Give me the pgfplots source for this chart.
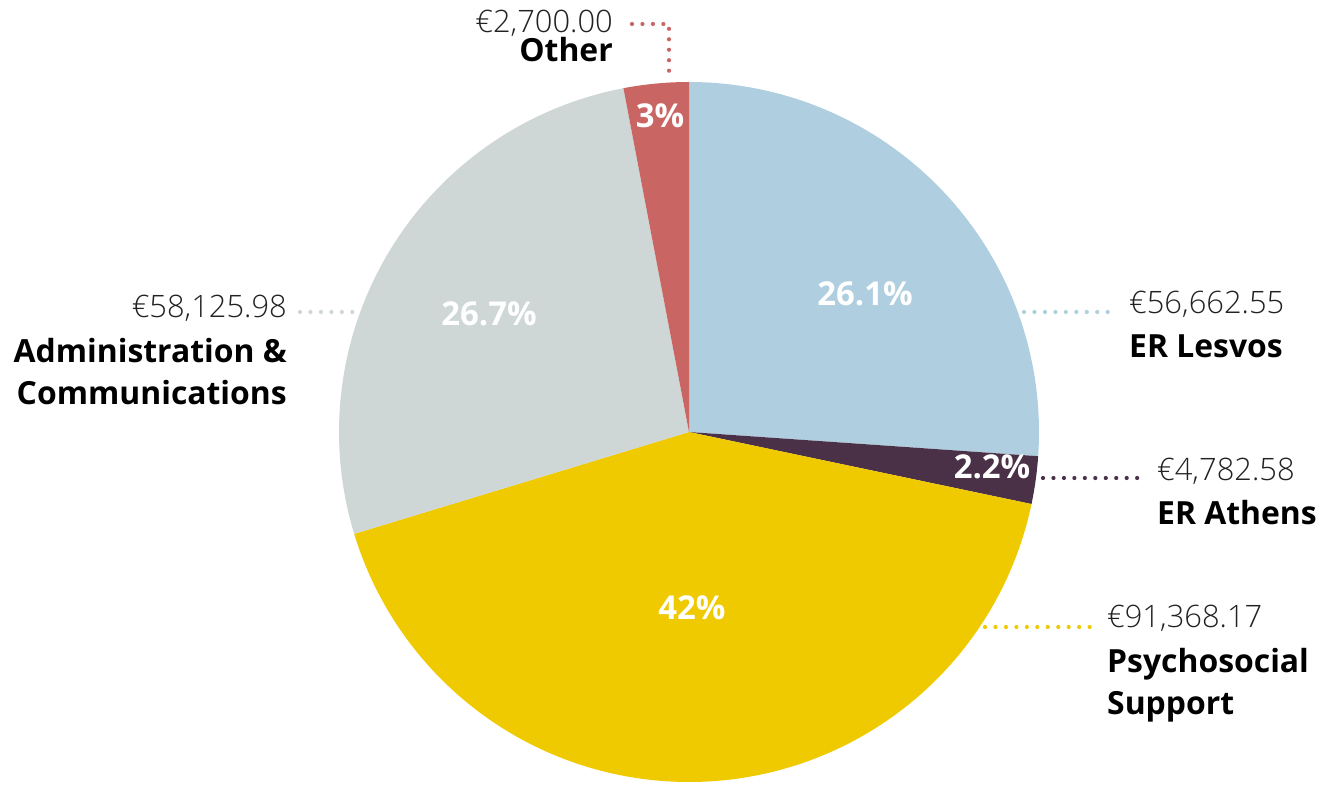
\documentclass[border=0pt]{standalone}
\usepackage{fontspec}
\setmainfont{Open Sans}
\newfontfamily\lightfont{Open Sans Light}
\usepackage{pgfplots}
\pgfplotsset{compat=1.18}
\definecolor{cLes}{HTML}{AFCFE0}
\definecolor{cAth}{HTML}{4B3148}
\definecolor{cPsy}{HTML}{F0CA00}
\definecolor{cAdm}{HTML}{CFD6D6}
\definecolor{cOth}{HTML}{C96663}
\definecolor{cVal}{HTML}{222222}
\begin{document}
\begin{tikzpicture}
% shares (percent) as printed on the chart
\def\pLes{26.1}\def\pAth{2.2}\def\pPsy{42}\def\pAdm{26.7}\def\pOth{3}
\pgfmathsetmacro{\aA}{90}
\pgfmathsetmacro{\aB}{\aA-3.6*\pLes}
\pgfmathsetmacro{\aC}{\aB-3.6*\pAth}
\pgfmathsetmacro{\aD}{\aC-3.6*\pPsy}
\pgfmathsetmacro{\aE}{\aD-3.6*\pAdm}
\pgfmathsetmacro{\aF}{\aE-3.6*\pOth}
\tikzset{
  val/.style={font=\lightfont\fontsize{31}{40}\selectfont, text=cVal, inner sep=0pt},
  nam/.style={font=\fontsize{32}{40}\selectfont\bfseries, text=black, inner sep=0pt},
  pct/.style={text=white, font=\fontsize{33}{40}\selectfont\bfseries, inner sep=0pt, anchor=base},
  lead/.style={line width=4.2pt, line cap=round, dash pattern=on 0pt off 10.5pt},
}
\begin{axis}[
  width=1323bp, height=784bp, scale only axis,
  xmin=0, xmax=1323, ymin=-784, ymax=0,
  hide axis, clip=false,
]
\path (axis cs:0,-784) rectangle (axis cs:1323,0);
\addplot[draw=none, fill=cLes, domain=\aB:\aA, samples=120, variable=\t] ({689+350*cos(\t)},{-432+350*sin(\t)}) -- (axis cs:689,-432) -- cycle;
\addplot[draw=none, fill=cAth, domain=\aC:\aB, samples=20, variable=\t] ({689+350*cos(\t)},{-432+350*sin(\t)}) -- (axis cs:689,-432) -- cycle;
\addplot[draw=none, fill=cPsy, domain=\aD:\aC, samples=180, variable=\t] ({689+350*cos(\t)},{-432+350*sin(\t)}) -- (axis cs:689,-432) -- cycle;
\addplot[draw=none, fill=cAdm, domain=\aE:\aD, samples=120, variable=\t] ({689+350*cos(\t)},{-432+350*sin(\t)}) -- (axis cs:689,-432) -- cycle;
\addplot[draw=none, fill=cOth, domain=\aF:\aE, samples=20, variable=\t] ({689+350*cos(\t)},{-432+350*sin(\t)}) -- (axis cs:689,-432) -- cycle;

% percentage labels
\node[pct] at (axis cs:865,-306) {26.1\%};
\node[pct] at (axis cs:992,-478) {2.2\%};
\node[pct] at (axis cs:692,-619) {42\%};
\node[pct] at (axis cs:489,-326) {26.7\%};
\node[pct] at (axis cs:660,-128) {3\%};

% leader lines
\draw[lead, cLes] (axis cs:1024,-312) -- (axis cs:1108,-312);
\draw[lead, cAth] (axis cs:1043,-478) -- (axis cs:1146,-478);
\draw[lead, cPsy] (axis cs:985,-627) -- (axis cs:1095,-627);
\draw[lead, cAdm] (axis cs:300,-312) -- (axis cs:356,-312);
\draw[lead, cOth] (axis cs:632,-24) -- (axis cs:669,-24) -- (axis cs:669,-80);

% category labels
\node[val, anchor=base west] at (axis cs:1129,-314) {\texteuro56,662.55};
\node[nam, anchor=base west] at (axis cs:1129,-358) {ER Lesvos};
\node[val, anchor=base west] at (axis cs:1157,-480) {\texteuro4,782.58};
\node[nam, anchor=base west] at (axis cs:1157,-524) {ER Athens};
\node[val, anchor=base west] at (axis cs:1107,-627) {\texteuro91,368.17};
\node[nam, anchor=base west] at (axis cs:1107,-672) {Psychosocial};
\node[nam, anchor=base west] at (axis cs:1107,-714) {Support};
\node[val, anchor=base east] at (axis cs:287,-318) {\texteuro58,125.98};
\node[nam, anchor=base east] at (axis cs:287,-363) {Administration \&};
\node[nam, anchor=base east] at (axis cs:287,-404) {Communications};
\node[val, anchor=base east] at (axis cs:613,-33) {\texteuro2,700.00};
\node[nam, anchor=base east] at (axis cs:613,-62) {Other};
\end{axis}
\end{tikzpicture}
\end{document}
